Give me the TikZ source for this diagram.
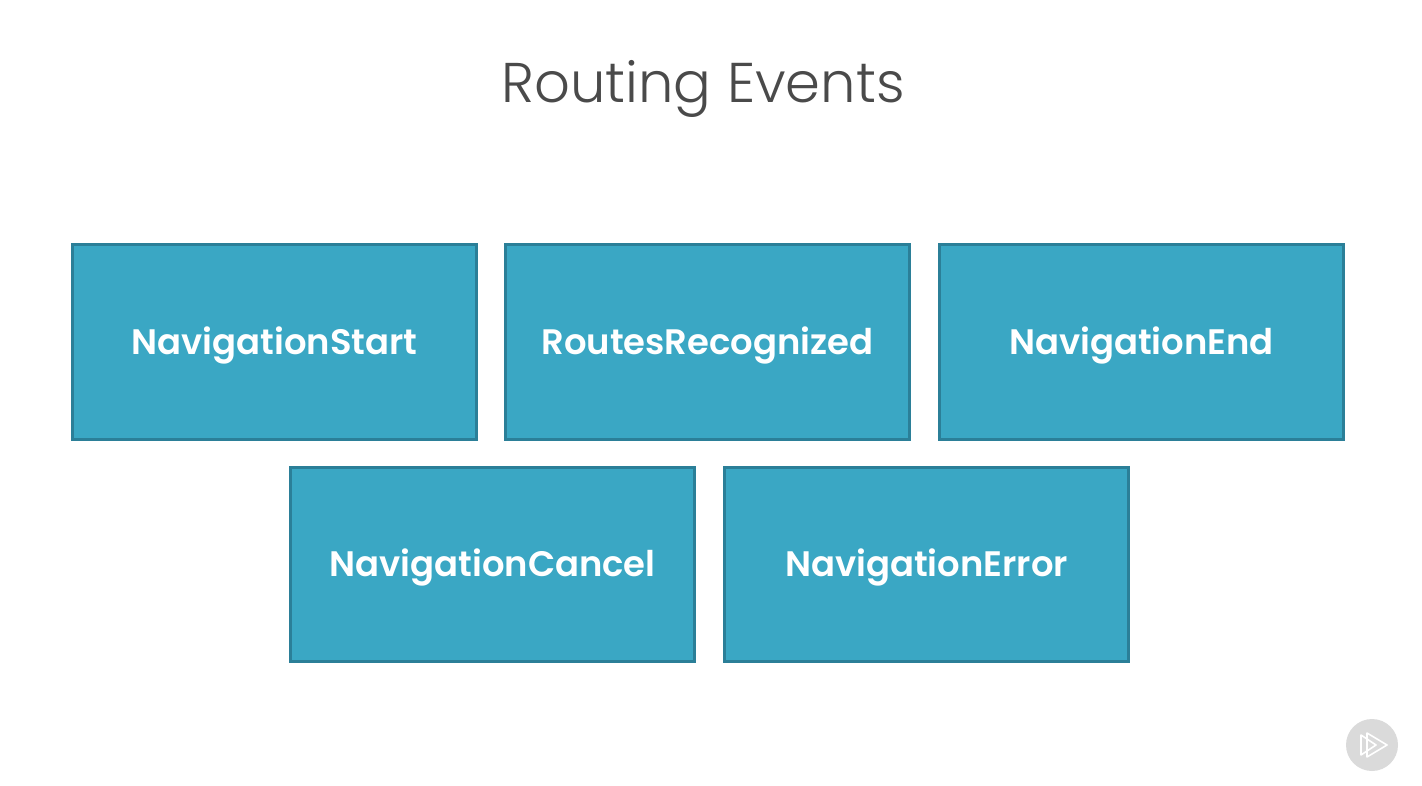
\documentclass[tikz,border=0pt]{standalone}
\usepackage{fontspec}
\setmainfont{Poppins}
\newfontfamily\titlefont{Poppins Light}
\newfontfamily\boxfont{Poppins SemiBold}
\usetikzlibrary{positioning}
\definecolor{boxfill}{HTML}{3AA7C4}
\definecolor{boxline}{HTML}{2B7F98}
\definecolor{titlegray}{HTML}{4A4A4A}
\definecolor{badgegray}{HTML}{DADADA}
\begin{document}
\begin{tikzpicture}[x=1pt,y=-1pt,
                    event/.style={draw=boxline,fill=boxfill,line width=3pt,minimum width=404.5pt,minimum height=194pt,
                                  inner sep=0pt,text height=25pt,text depth=0pt,text=white,
                                  font=\fontsize{35.4}{36}\selectfont\boxfont},
                    playbadge/.style={circle,fill=badgegray,minimum size=52pt,inner sep=0pt},
                    playicon/.style={white,line width=1.6pt,line join=round}]

	\useasboundingbox (0,0) rectangle (1422,786);

	\node[font=\fontsize{56}{56}\selectfont\titlefont,text=titlegray] (title) at (703,89) {Routing Events};

	\node[event] (start)  at (274.5,342)  {NavigationStart};
	\node[event] (routes) at (707.5,342)  {RoutesRecognized};
	\node[event] (end)    at (1141.5,342) {NavigationEnd};
	\node[event] (cancel) at (492.5,564)  {NavigationCancel};
	\node[event] (error)  at (926.5,564)  {NavigationError};

	\node[playbadge] (badge) at (1372,745) {};
	\draw[playicon] (1367,733) -- (1387,745) -- (1367,757) -- cycle;
	\draw[playicon] (1361,735) -- (1376,745) -- (1361,755) -- cycle;

\end{tikzpicture}
\end{document}
